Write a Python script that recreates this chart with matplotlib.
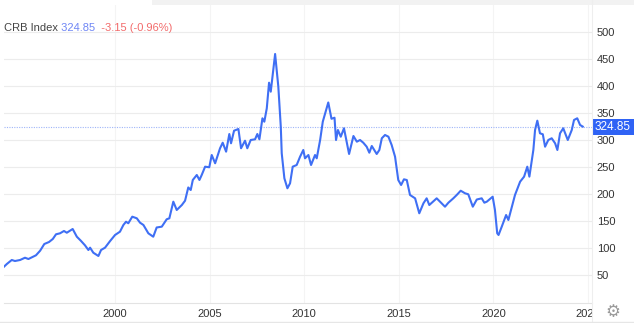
"""CRB Index long-run line chart, price-pane style."""

import matplotlib

matplotlib.use("Agg")
import matplotlib.pyplot as plt
from matplotlib.patches import Rectangle
from matplotlib.transforms import Bbox, TransformedBbox, blended_transform_factory

# Decimal year and index level.
years = [
    1994.13, 1994.28, 1994.54, 1994.71, 1994.98, 1995.24, 1995.42, 1995.60, 1995.82,
    1996.04, 1996.26, 1996.51, 1996.71, 1996.88, 1997.09, 1997.30, 1997.45, 1997.76,
    1997.98, 1998.19, 1998.41, 1998.59, 1998.68, 1998.85, 1999.12, 1999.26, 1999.47,
    1999.74, 2000.00, 2000.26, 2000.44, 2000.58, 2000.70, 2000.91, 2001.15, 2001.32,
    2001.50, 2001.76, 2002.02, 2002.20, 2002.47, 2002.73, 2002.87, 2003.08, 2003.26,
    2003.53, 2003.70, 2003.87, 2004.00, 2004.11, 2004.32, 2004.46, 2004.58, 2004.76,
    2004.98, 2005.11, 2005.29, 2005.55, 2005.69, 2005.87, 2006.04, 2006.13, 2006.29,
    2006.52, 2006.66, 2006.87, 2006.99, 2007.17, 2007.40, 2007.52, 2007.63, 2007.79,
    2007.89, 2008.02, 2008.14, 2008.23, 2008.46, 2008.63, 2008.76, 2008.81, 2008.95,
    2009.11, 2009.25, 2009.39, 2009.60, 2009.78, 2009.95, 2010.04, 2010.22, 2010.36,
    2010.57, 2010.66, 2010.84, 2010.98, 2011.27, 2011.44, 2011.60, 2011.68, 2011.78,
    2011.93, 2012.10, 2012.37, 2012.60, 2012.78, 2012.95, 2013.12, 2013.30, 2013.44,
    2013.57, 2013.83, 2013.97, 2014.10, 2014.27, 2014.45, 2014.62, 2014.80, 2014.97,
    2015.12, 2015.27, 2015.42, 2015.59, 2015.86, 2016.08, 2016.30, 2016.47, 2016.61,
    2017.00, 2017.44, 2017.62, 2017.88, 2018.06, 2018.27, 2018.50, 2018.67, 2018.91,
    2019.12, 2019.38, 2019.52, 2019.65, 2019.96, 2020.08, 2020.20, 2020.27, 2020.44,
    2020.67, 2020.79, 2021.05, 2021.14, 2021.41, 2021.62, 2021.79, 2021.90, 2022.11,
    2022.20, 2022.32, 2022.46, 2022.61, 2022.73, 2022.90, 2023.08, 2023.26, 2023.38,
    2023.52, 2023.69, 2023.93, 2024.14, 2024.26, 2024.43, 2024.58, 2024.72,
]
values = [
    65.4, 70.4, 77.8, 75.9, 77.8, 82.0, 79.6, 82.8, 86.5,
    95.0, 107.4, 111.1, 116.7, 125.4, 127.2, 131.5, 128.3, 135.2,
    120.9, 113.5, 105.0, 96.3, 100.6, 91.3, 85.2, 96.3, 100.6,
    113.0, 124.1, 130.2, 142.6, 148.7, 145.8, 158.0, 155.0, 146.9,
    142.6, 127.2, 120.9, 138.0, 139.5, 153.2, 155.0, 185.8, 170.4,
    179.6, 187.6, 212.1, 207.4, 226.0, 235.2, 226.0, 235.2, 250.6,
    249.5, 272.2, 256.9, 284.7, 295.0, 278.4, 311.1, 293.9, 317.2,
    320.4, 284.7, 298.7, 284.7, 300.0, 301.3, 311.1, 301.3, 340.2,
    333.9, 358.7, 406.1, 389.5, 459.3, 398.7, 324.7, 275.4, 229.1,
    210.6, 219.8, 250.6, 253.7, 269.1, 281.5, 266.1, 272.2, 253.7,
    272.2, 266.1, 300.0, 333.9, 369.5, 339.3, 341.3, 300.0, 318.5,
    306.1, 321.7, 274.1, 307.4, 296.9, 300.0, 295.0, 287.6, 276.5,
    288.9, 274.1, 281.5, 303.2, 309.3, 306.1, 290.8, 269.1, 225.9,
    216.7, 227.2, 225.9, 198.2, 192.0, 164.3, 182.8, 192.0, 179.6,
    192.0, 176.5, 183.9, 192.0, 198.2, 206.1, 201.3, 199.5, 176.5,
    189.8, 192.0, 183.9, 185.8, 195.0, 170.4, 127.2, 124.1, 139.5,
    161.1, 151.9, 185.8, 198.2, 222.8, 232.1, 250.6, 232.1, 281.5,
    318.5, 335.8, 312.4, 310.6, 287.6, 300.0, 303.2, 293.9, 281.5,
    312.4, 321.7, 300.0, 318.5, 337.1, 340.2, 327.8, 324.85,
]

last_price = 324.85
change = -3.15
change_pct = -0.96

y_ticks = [50, 100, 150, 200, 250, 300, 350, 400, 450, 500]
x_ticks = [2000, 2005, 2010, 2015, 2020, 2025]

line_blue = "#3f6ff4"
tag_blue = "#2f63f5"
grid_grey = "#ececec"

plt.rcParams["font.family"] = ["Liberation Sans", "DejaVu Sans"]

W, H = 634, 323
fig = plt.figure(figsize=(W / 100, H / 100), dpi=100)
ax = fig.add_axes([4 / W, 20 / H, 588 / W, 298 / H])

ax.plot(years, values, color=line_blue, lw=1.5, solid_joinstyle="round", zorder=3)
ax.axhline(last_price, color="#9fb5f8", lw=0.8, ls=(0, (1, 1.2)), zorder=2)

ax.set_xlim(1994.13, 2025.21)
ax.set_ylim(-1.85, 550)
ax.set_xticks(x_ticks)
ax.set_xticklabels([str(y) for y in x_ticks])
ax.set_yticks(y_ticks)
ax.yaxis.tick_right()
ax.tick_params(axis="y", length=0, pad=3.5, labelsize=8, labelcolor="#333333")
ax.tick_params(axis="x", length=0, pad=4, labelsize=8, labelcolor="#333333")
for lbl in ax.get_yticklabels():
    lbl.set_horizontalalignment("left")

ax.grid(axis="y", color=grid_grey, lw=0.8)
ax.grid(axis="x", color="#f4f4f4", lw=0.8)
ax.set_axisbelow(True)

for side in ["top", "left", "right"]:
    ax.spines[side].set_visible(False)
ax.spines["bottom"].set_color("#e3e3e3")

# "2025" is cut off by the price pane border, as in the original
clip = TransformedBbox(Bbox([[0, 0], [592 / W, 1]]), fig.transFigure)
for lbl in ax.get_xticklabels():
    lbl.set_clip_box(clip)
    lbl.set_clip_on(True)

# pane border and top strip
fig.add_artist(plt.Line2D([592 / W, 592 / W], [0, 1], color="#eeeeee", lw=0.8))
fig.add_artist(Rectangle((152 / W, 318 / H), 1, 5 / H, color="#f2f2f2", lw=0))
fig.add_artist(plt.Line2D([0, 1], [1.5 / H, 1.5 / H], color="#e6e6e6", lw=1))

# last price tag on the axis, filling the gap between pane border and edge
trans = blended_transform_factory(ax.transAxes, ax.transData)
tag_h = 16 / 298 * (550 + 1.85)
ax.add_patch(Rectangle((1.0, last_price - tag_h / 2), 42 / 588, tag_h,
                       transform=trans, facecolor=tag_blue, edgecolor="none",
                       clip_on=False, zorder=5))
ax.text(1.0 + 21 / 588, last_price, f"{last_price:.2f}", transform=trans,
        ha="center", va="center", color="white", fontsize=8.5,
        clip_on=False, zorder=6)

# header line
t1 = fig.text(4 / W, 1 - 28 / H, "CRB Index", fontsize=8, color="#444444", va="center")
t2 = ax.annotate(
    f" {last_price:.2f}",
    xy=(1, 0.5),
    xycoords=t1,
    va="center",
    fontsize=8,
    color="#6f86f5",
)
ax.annotate(
    f"  {change:.2f} ({change_pct:.2f}%)",
    xy=(1, 0.5),
    xycoords=t2,
    va="center",
    fontsize=8,
    color="#f26b6b",
)

# settings gear in the corner
fig.text(613 / W, 1 - 312 / H, "\u2699", family="DejaVu Sans", fontsize=12,
         color="#9a9a9a", ha="center", va="center")

fig.savefig("out.png", dpi=100)
